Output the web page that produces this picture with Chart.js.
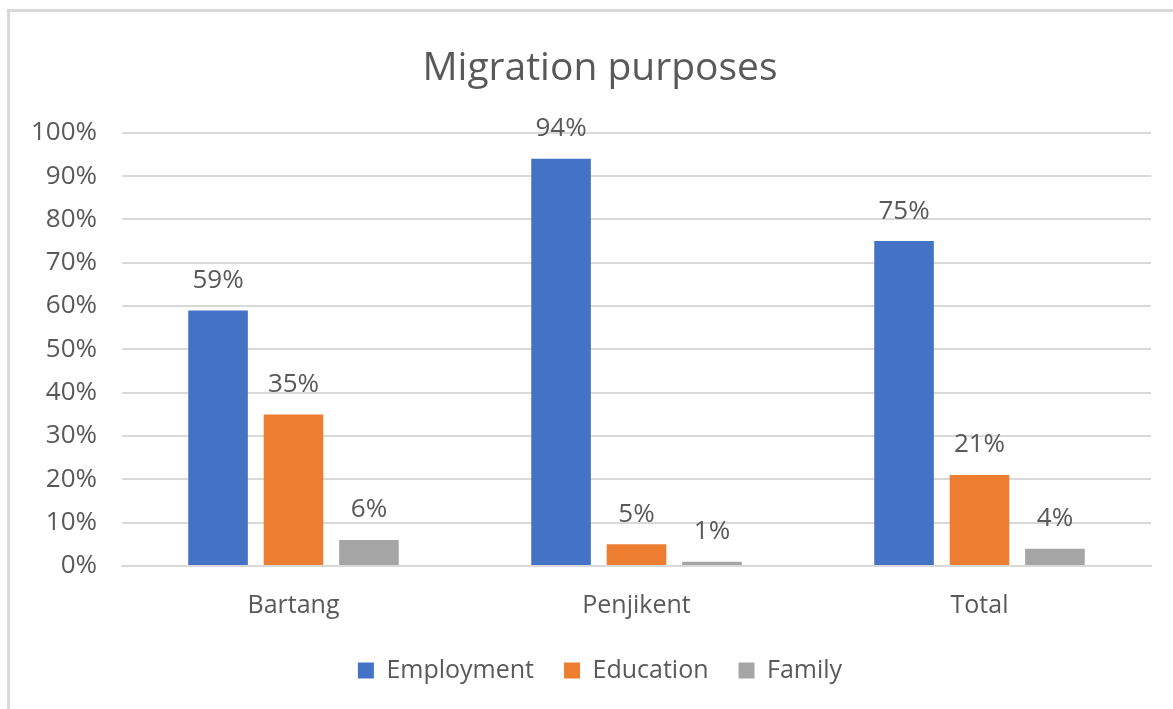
<!DOCTYPE html>
<html lang="en">
<head>
    <meta charset="UTF-8">
    <title>Migration purposes</title>
    <script src="https://cdn.jsdelivr.net/npm/chart.js"></script>
    <style>
        html, body { margin: 0; padding: 0; background: #fff; overflow: hidden; }
        .frame { position: absolute; left: 7px; top: 9px; width: 1200px; height: 800px; border: 3px solid #d9d9d9; box-sizing: border-box; }
        canvas { position: absolute; left: 0; top: 0; }
    </style>
</head>
<body>
    <div class="frame"></div>
    <!-- the chart runs a bit past the right edge of the window -->
    <canvas id="chart" width="1200" height="709"></canvas>

    <script>
        const regions = ['Bartang', 'Penjikent', 'Total'];
        const employment = [59, 94, 75];
        const education = [35, 5, 21];
        const family = [6, 1, 4];
        const yTicks = [0, 10, 20, 30, 40, 50, 60, 70, 80, 90, 100];

        const textColor = '#595959';
        const fontFamily = '"Open Sans", sans-serif';

        // percent labels above each bar
        const valueLabels = {
            id: 'valueLabels',
            afterDatasetsDraw(chart) {
                const ctx = chart.ctx;
                ctx.save();
                ctx.font = '26px ' + fontFamily;
                ctx.fillStyle = textColor;
                ctx.textAlign = 'center';
                ctx.textBaseline = 'middle';
                chart.data.datasets.forEach((ds, i) => {
                    chart.getDatasetMeta(i).data.forEach((bar, j) => {
                        ctx.fillText(ds.data[j] + '%', bar.x, bar.y - 30);
                    });
                });
                ctx.restore();
            }
        };

        new Chart(document.getElementById('chart'), {
            type: 'bar',
            data: {
                labels: regions,
                datasets: [
                    { label: 'Employment', data: employment, backgroundColor: '#4472C4' },
                    { label: 'Education', data: education, backgroundColor: '#ED7D31' },
                    { label: 'Family', data: family, backgroundColor: '#A5A5A5' }
                ]
            },
            options: {
                responsive: false,
                animation: false,
                datasets: { bar: { categoryPercentage: 0.66, barPercentage: 0.79 } },
                layout: { padding: { top: 10, right: 0, bottom: 16, left: 0 } },
                plugins: {
                    title: {
                        display: true,
                        text: 'Migration purposes',
                        color: textColor,
                        font: { family: fontFamily, size: 39, weight: 'normal' },
                        padding: { top: 35, bottom: 41 }
                    },
                    legend: {
                        position: 'bottom',
                        labels: {
                            color: textColor,
                            font: { family: fontFamily, size: 25 },
                            boxWidth: 16,
                            boxHeight: 16,
                            padding: 30
                        }
                    },
                    tooltip: { enabled: false }
                },
                scales: {
                    x: {
                        afterFit: (s) => { s.height = 62; },
                        grid: { display: false, drawTicks: false },
                        border: { color: '#d9d9d9', width: 2 },
                        ticks: { color: textColor, font: { family: fontFamily, size: 25 }, padding: 25 }
                    },
                    y: {
                        min: 0,
                        max: 100,
                        afterFit: (s) => { s.width = 122; },
                        afterBuildTicks: (s) => { s.ticks = yTicks.map(v => ({ value: v })); },
                        grid: { color: '#d9d9d9', lineWidth: 2, drawTicks: false },
                        border: { display: false },
                        ticks: {
                            color: textColor,
                            font: { family: fontFamily, size: 26 },
                            padding: 25,
                            callback: (v) => v + '%'
                        }
                    },
                    // empty right margin so title and legend centre on the whole frame
                    spacer: {
                        position: 'right',
                        afterFit: (s) => { s.width = 49; },
                        grid: { display: false, drawTicks: false },
                        border: { display: false },
                        ticks: { display: false }
                    }
                }
            },
            plugins: [valueLabels]
        });
    </script>
</body>
</html>
